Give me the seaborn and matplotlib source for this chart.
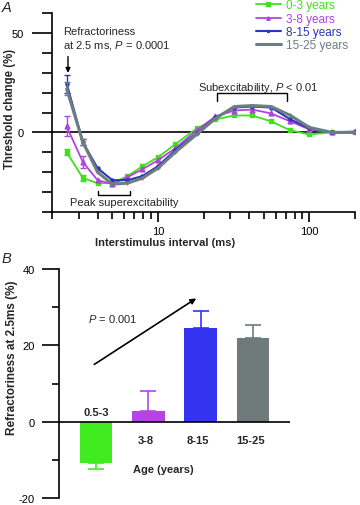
import matplotlib
matplotlib.use('Agg')
import matplotlib.pyplot as plt
import seaborn as sns
import pandas as pd
from matplotlib.lines import Line2D

# ---------------- data ----------------
intervals = [2.5, 3.2, 4, 5, 6.3, 7.9, 10, 13, 18, 24, 32, 42, 56, 75, 100, 140, 200]
grp_0_3 = [-10, -23, -25.5, -25.5, -22, -17, -12.5, -6, 2, 6.5, 8.5, 8.5, 5.5, 1, -1, 0, 0]
grp_3_8 = [3, -15, -24, -26, -22.5, -18.5, -14, -8, 1, 8, 11, 11.5, 9.5, 5.5, 1.5, 0, 0.5]
grp_8_15 = [24.5, -5, -18, -24, -24, -22, -17, -9, -0.5, 7.5, 12.5, 13, 12.5, 6.5, 2, 0, 0]
grp_15_25 = [21.9, -5, -20, -26, -25.5, -23, -18, -10, -1, 7, 13, 13.5, 13, 8.5, 2.5, 0, 0]
err_0_3 = [1.5, 1.5]
err_3_8 = [5, 3]
err_8_15 = [4.5, 1.5]
err_15_25 = [3.3, 1.5]
group_names = ['0-3 years', '3-8 years', '8-15 years', '15-25 years']

ages = ['0.5-3', '3-8', '8-15', '15-25']
refract = [-10.7, 2.7, 24.5, 21.9]
refract_err = [1.8, 5.3, 4.5, 3.3]

line_colors = ['#3fe01c', '#b044dc', '#2a36b8', '#6d7d84']
bar_colors = ['#40ec20', '#b445e4', '#3434f0', '#6e7b7a']

# ---------------- style ----------------
sns.set_theme(style='ticks')
plt.rcParams['font.family'] = ['Liberation Sans', 'DejaVu Sans']
plt.rcParams['mathtext.fontset'] = 'custom'
plt.rcParams['mathtext.it'] = 'Liberation Sans:italic'
plt.rcParams['mathtext.rm'] = 'Liberation Sans'
plt.rcParams['axes.edgecolor'] = 'black'
plt.rcParams['xtick.color'] = 'black'
plt.rcParams['ytick.color'] = 'black'

W, H = 360, 506
fig = plt.figure(figsize=(W / 100, H / 100), dpi=100)
axA = fig.add_axes([52 / W, 1 - 213 / H, (355 - 52) / W, (213 - 14) / H])
axB = fig.add_axes([59 / W, 1 - 499 / H, (290 - 59) / W, (499 - 270) / H])

# ---------------- panel A ----------------
series = [grp_0_3, grp_3_8, grp_8_15, grp_15_25]
errs = [err_0_3, err_3_8, err_8_15, err_15_25]
markers = ['s', '^', 'o', '+']
msizes = [3.5, 3.5, 2.2, 3]
lws = [1.3, 1.3, 1.5, 2.2]

axA.set_xscale('log')
axA.axhline(0, color='black', lw=1.2, zorder=1)
rows = []
for name, vals in zip(group_names, series):
    for x, v in zip(intervals, vals):
        rows.append({'interval': x, 'change': v, 'group': name})
dfA = pd.DataFrame(rows)

for i, name in enumerate(group_names):
    sub = dfA[dfA['group'] == name]
    sns.lineplot(data=sub, x='interval', y='change', ax=axA, color=line_colors[i],
                 marker=markers[i], markersize=msizes[i], linewidth=lws[i],
                 markeredgecolor=line_colors[i], markeredgewidth=1.0,
                 errorbar=None, legend=False, zorder=3 + i)
    e = errs[i]
    axA.errorbar(intervals[:len(e)], series[i][:len(e)], yerr=e, fmt='none',
                 ecolor=line_colors[i], elinewidth=1.0, capsize=2.5, capthick=1.0, zorder=3 + i)

axA.set_xlim(2, 200)
axA.set_ylim(-40, 60)
axA.set_xticks([10, 100])
axA.set_xticklabels(['10', '100'])
axA.set_xticks([2, 3, 4, 5, 6, 7, 8, 9, 20, 30, 40, 50, 60, 70, 80, 90, 200], minor=True)
axA.set_xticklabels([], minor=True)
axA.set_yticks([0, 50])
axA.set_yticklabels(['0', '50'])
axA.set_yticks([-40, -30, -20, -10, 10, 20, 30, 40, 60], minor=True)
axA.tick_params(axis='y', which='major', length=14.4, width=1.2, pad=6, labelsize=8, left=True)
axA.tick_params(axis='y', which='minor', length=7.2, width=1.2, left=True)
axA.tick_params(axis='x', which='major', length=7, width=1.2, pad=3, labelsize=8, bottom=True)
axA.tick_params(axis='x', which='minor', length=5, width=1.2, bottom=True)
for s in ['top', 'right']:
    axA.spines[s].set_visible(False)
for s in ['left', 'bottom']:
    axA.spines[s].set_linewidth(1.2)

axA.set_ylabel('Threshold change (%)', fontweight='bold', fontsize=8.3, va='center')
axA.yaxis.set_label_coords(10 / W, 1 - 109 / H, transform=fig.transFigure)
axA.set_xlabel('Interstimulus interval (ms)', fontweight='bold', fontsize=8, va='center')
axA.xaxis.set_label_coords(165 / W, 1 - 243 / H, transform=fig.transFigure)

# annotations A
axA.text(2.38, 47.2, 'Refractoriness\nat 2.5 ms, $P$ = 0.0001', fontsize=8, ha='left',
         va='center', linespacing=1.25)
axA.annotate('', xy=(2.55, 28.5), xytext=(2.55, 39.5),
             arrowprops=dict(arrowstyle='-|>', color='black', lw=1.0, mutation_scale=7))
axA.text(45.7, 23, 'Subexcitability, $P$ < 0.01', fontsize=8, ha='center', va='center')
axA.plot([24.6, 24.6, 71.5, 71.5], [16, 20, 20, 16], color='black', lw=1.0, zorder=2)
axA.text(6.0, -35, 'Peak superexcitability', fontsize=8, ha='center', va='center')
axA.plot([4.0, 4.0, 6.5, 6.5], [-29.5, -31.5, -31.5, -29.5], color='black', lw=1.0, zorder=2)

handles = [Line2D([], [], color=line_colors[i], marker=markers[i], markersize=msizes[i] * 0.7,
                  lw=lws[i], markeredgecolor=line_colors[i]) for i in range(4)]
fig.legend(handles, group_names, loc='upper left', bbox_to_anchor=(256 / W, 1 - 0.5 / H),
           frameon=False, fontsize=8.5, labelcolor='linecolor', borderpad=0,
           borderaxespad=0, handlelength=2.1, handletextpad=0.4, labelspacing=0.1)

fig.text(2 / W, 1 - 8 / H, 'A', fontsize=10.5, style='italic', ha='left', va='center')

# ---------------- panel B ----------------
dfB = pd.DataFrame({'age': ages, 'refract': refract})
sns.barplot(data=dfB, x='age', y='refract', hue='age', palette=bar_colors, width=0.62,
            ax=axB, legend=False, errorbar=None, saturation=1, linewidth=0)
for i, (v, e) in enumerate(zip(refract, refract_err)):
    yerr = [[0], [e]] if v > 0 else [[e], [0]]
    axB.errorbar([i], [v], yerr=yerr, fmt='none', ecolor=bar_colors[i], elinewidth=1.2,
                 capsize=5.5, capthick=1.2, zorder=1)
axB.axhline(0, color='black', lw=1.2, zorder=3)

axB.set_xlim(-0.71, 3.71)
axB.set_ylim(-20, 40)
axB.set_xticks([])
axB.set_xlabel('')
axB.set_yticks([-20, 0, 20, 40])
axB.set_yticklabels(['-20', '0', '20', '40'])
axB.set_yticks([-10, 10, 30], minor=True)
axB.tick_params(axis='y', which='major', length=12.2, width=1.2, pad=5, labelsize=8, left=True)
axB.tick_params(axis='y', which='minor', length=5, width=1.2, left=True)
for s in ['top', 'right', 'bottom']:
    axB.spines[s].set_visible(False)
axB.spines['left'].set_linewidth(1.2)

axB.set_ylabel('Refractoriness at 2.5ms (%)', fontweight='bold', fontsize=8.5, va='center')
axB.yaxis.set_label_coords(12 / W, 1 - 358 / H, transform=fig.transFigure)

axB.text(0, 2.6, ages[0], fontsize=8, fontweight='bold', ha='center', va='center')
for i in range(1, 4):
    axB.text(i - 0.05, -4.7, ages[i], fontsize=8, fontweight='bold', ha='center', va='center')
axB.text(1.29, -12.3, 'Age (years)', fontsize=8, fontweight='bold', ha='center', va='center')
axB.text(0.31, 27.2, '$P$ = 0.001', fontsize=8, ha='center', va='center')
axB.annotate('', xy=(1.96, 32.7), xytext=(-0.08, 14.6),
             arrowprops=dict(arrowstyle='-|>', color='black', lw=1.2, mutation_scale=8))

fig.text(2 / W, 1 - 259 / H, 'B', fontsize=10.5, style='italic', ha='left', va='center')

fig.savefig('out.png', dpi=100)
